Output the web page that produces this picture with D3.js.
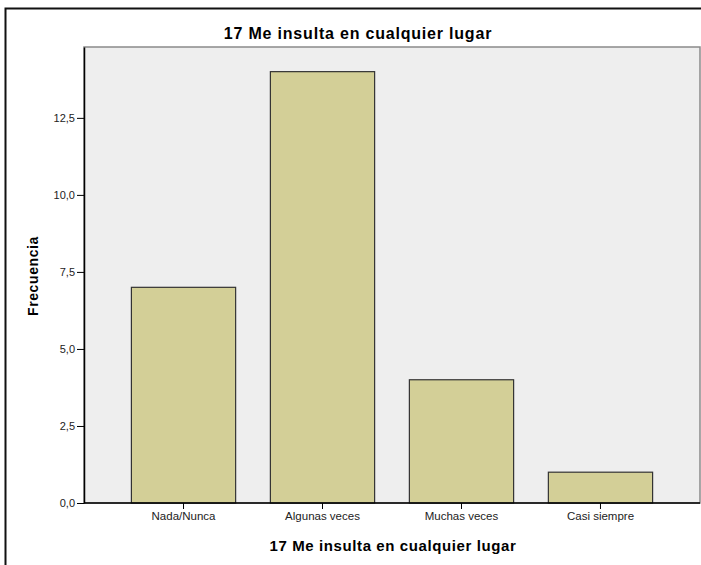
<!DOCTYPE html>
<html lang="es">
<head>
    <meta charset="UTF-8">
    <title>17 Me insulta en cualquier lugar</title>
    <script src="https://cdnjs.cloudflare.com/ajax/libs/d3/7.8.5/d3.min.js"></script>
    <style>
        body { margin: 0; background: #fff; }
        text { font-family: Arial, "Liberation Sans", sans-serif; }
    </style>
</head>
<body>
    <div id="chart"></div>
    <script>
        // datos
        var categorias = ["Nada/Nunca", "Algunas veces", "Muchas veces", "Casi siempre"];
        var frecuencias = [7, 14, 4, 1];
        var ticksY = [0, 2.5, 5, 7.5, 10, 12.5];
        var titulo = "17 Me insulta en cualquier lugar";

        var width = 701, height = 565;
        // ojo: "top" es global del navegador, por eso plotTop
        var plotLeft = 84, plotRight = 700, plotTop = 47, plotBottom = 503;

        var svg = d3.select("#chart").append("svg")
            .attr("width", width)
            .attr("height", height);

        // marco exterior
        svg.append("rect")
            .attr("x", 5.5).attr("y", 8.5)
            .attr("width", 720).attr("height", 600)
            .attr("fill", "#fff")
            .attr("stroke", "#111")
            .attr("stroke-width", 2);

        // fondo del grafico
        svg.append("rect")
            .attr("x", plotLeft).attr("y", plotTop)
            .attr("width", plotRight - plotLeft).attr("height", plotBottom - plotTop)
            .attr("fill", "#eeeeee")
            .attr("stroke", "#8a8a8a")
            .attr("stroke-width", 1.5);

        var x = d3.scaleBand()
            .domain(categorias)
            .range([plotLeft, plotRight])
            .paddingInner(0.25)
            .paddingOuter(0.341);

        var y = d3.scaleLinear()
            .domain([0, 14.8])
            .range([plotBottom, plotTop]);

        svg.selectAll(".bar")
            .data(frecuencias)
            .enter().append("rect")
            .attr("class", "bar")
            .attr("x", function(d, i){ return x(categorias[i]); })
            .attr("y", function(d){ return y(d); })
            .attr("width", x.bandwidth())
            .attr("height", function(d){ return y(0) - y(d); })
            .attr("fill", "#d3cf97")
            .attr("stroke", "#333")
            .attr("stroke-width", 1.2);

        var fmt = function(d){ return d3.format(".1f")(d).replace(".", ","); };

        var ejeY = svg.append("g")
            .attr("transform", "translate(" + plotLeft + ",0)")
            .call(d3.axisLeft(y).tickValues(ticksY).tickFormat(fmt)
                .tickSize(7).tickSizeOuter(0).tickPadding(2));
        ejeY.select(".domain").attr("stroke", "#000").attr("stroke-width", 1.5);
        ejeY.selectAll(".tick line").attr("stroke", "#000");
        ejeY.selectAll(".tick text").attr("font-size", 11).attr("fill", "#222")
            .attr("font-family", "Arial, 'Liberation Sans', sans-serif");

        var ejeX = svg.append("g")
            .attr("transform", "translate(0," + plotBottom + ")")
            .call(d3.axisBottom(x).tickSize(6).tickSizeOuter(0).tickPadding(3));
        ejeX.select(".domain").attr("stroke", "#000").attr("stroke-width", 1.5)
            .attr("d", "M" + plotLeft + ",0H" + plotRight);
        ejeX.selectAll(".tick line").attr("stroke", "#000");
        ejeX.selectAll(".tick text").attr("font-size", 11.5).attr("fill", "#222")
            .attr("font-family", "Arial, 'Liberation Sans', sans-serif");

        // titulos
        svg.append("text")
            .attr("x", 358).attr("y", 39)
            .attr("text-anchor", "middle")
            .attr("font-size", 16).attr("font-weight", "bold")
            .attr("letter-spacing", 0.8)
            .text(titulo);

        svg.append("text")
            .attr("x", 393).attr("y", 551)
            .attr("text-anchor", "middle")
            .attr("font-size", 15).attr("font-weight", "bold")
            .attr("letter-spacing", 0.6)
            .text(titulo);

        svg.append("text")
            .attr("transform", "translate(38,276) rotate(-90)")
            .attr("text-anchor", "middle")
            .attr("font-size", 14).attr("font-weight", "bold")
            .attr("letter-spacing", 0.6)
            .text("Frecuencia");
    </script>
</body>
</html>
